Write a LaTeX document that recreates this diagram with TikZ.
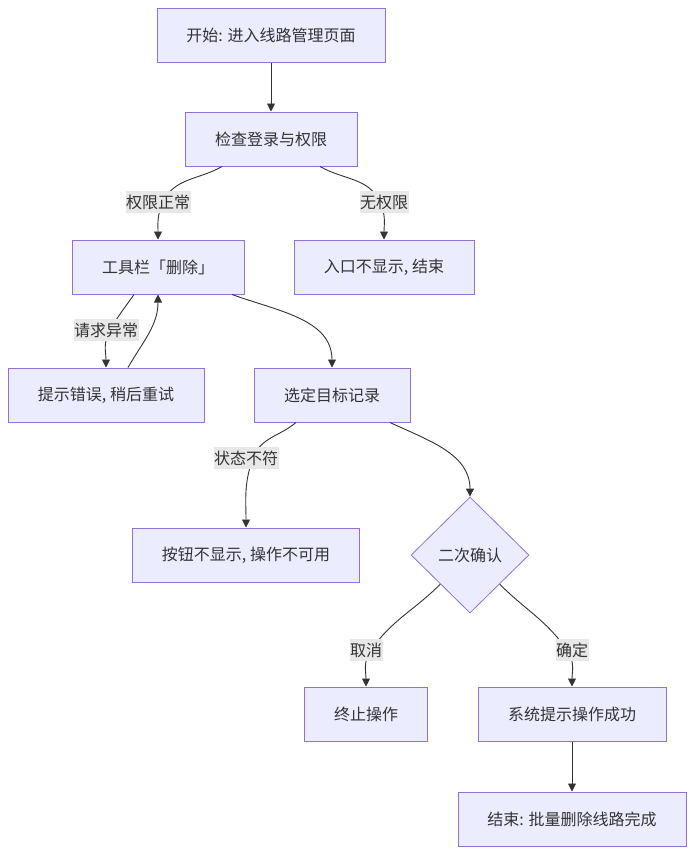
\documentclass[tikz,border=0pt]{standalone}
\usepackage{fontspec}
\setmainfont{Noto Sans CJK SC}
\usetikzlibrary{positioning,shapes.geometric,arrows.meta}
\definecolor{boxfill}{HTML}{ECECFF}
\definecolor{boxline}{HTML}{9370DB}
\definecolor{ink}{HTML}{333333}
\definecolor{lblfill}{HTML}{E8E8E8}

\begin{document}
\begin{tikzpicture}[x=1pt, y=1pt,
  font=\fontsize{16}{19}\selectfont,
  box/.style={draw=boxline, fill=boxfill, line width=1pt, minimum height=54pt, text=ink, inner sep=0pt},
  choice/.style={diamond, draw=boxline, fill=boxfill, line width=0.8pt, minimum width=118pt, minimum height=116pt, inner sep=0pt, text=ink},
  arr/.style={draw=ink, line width=0.9pt, -{Triangle[length=8pt,width=8pt]}},
  lbl/.style={fill=lblfill, text=ink, inner xsep=0.5pt, inner ysep=0pt, minimum height=22pt}]
\fill[white] (0,0) rectangle (695,-854);
\useasboundingbox (0,0) rectangle (695,-854);

\node[box, minimum width=228pt] (start) at (271,-35) {开始: 进入线路管理页面};
\node[box, minimum width=172pt] (check) at (271,-139) {检查登录与权限};
\node[box, minimum width=172pt] (toolbar) at (158,-267) {工具栏「删除」};
\node[box, minimum width=180pt] (noauth) at (384,-267) {入口不显示, 结束};
\node[box, minimum width=196pt] (err) at (106,-395) {提示错误, 稍后重试};
\node[box, minimum width=156pt] (select) at (332,-395) {选定目标记录};
\node[box, minimum width=227pt] (btnhide) at (246,-555) {按钮不显示, 操作不可用};
\node[choice] (confirm) at (470,-555) {二次确认};
\node[box, minimum width=123pt] (abort) at (366,-714) {终止操作};
\node[box, minimum width=188pt] (success) at (572,-714) {系统提示操作成功};
\node[box, minimum width=228pt] (finish) at (572,-819) {结束: 批量删除线路完成};

% label points the curves run through
\coordinate (m1) at (163,-202);
\coordinate (m2) at (380,-202);
\coordinate (m3) at (110,-330);
\coordinate (m4) at (253,-458);
\coordinate (m5) at (371,-650);
\coordinate (m6) at (567,-650);

\draw[arr] (start) -- (check);
\draw[arr] ([xshift=-49pt]check.south) to[out=-150, in=65] (m1) node[lbl, xshift=-5pt] {权限正常}
  to[out=-115, in=90] (toolbar.north);
\draw[arr] ([xshift=49pt]check.south) to[out=-30, in=115] (m2) node[lbl, xshift=4pt] {无权限}
  to[out=-65, in=90] (noauth.north);
\draw[arr] ([xshift=-24pt]toolbar.south) to[out=-125, in=60] (m3) node[lbl, xshift=-4pt] {请求异常}
  to[out=-120, in=90] (err.north);
\draw[arr] ([xshift=22pt]err.north) to[out=60, in=-90] (toolbar.south);
\draw[arr] ([xshift=74pt]toolbar.south) to[out=-20, in=90] (select.north);
\draw[arr] ([xshift=-36pt]select.south) to[out=-140, in=70] (m4) node[lbl, xshift=-7pt] {状态不符}
  to[out=-110, in=90] (btnhide.north);
\draw[arr] ([xshift=58pt]select.south) to[out=-25, in=90] (confirm.north);
\draw[arr] (confirm.south west) to[out=-135, in=55] (m5) node[lbl, xshift=-5pt] {取消}
  to[out=-125, in=90] (abort.north);
\draw[arr] (confirm.south east) to[out=-45, in=125] (m6) node[lbl, xshift=5pt] {确定}
  to[out=-55, in=90] (success.north);
\draw[arr] (success) -- (finish);
\end{tikzpicture}
\end{document}
